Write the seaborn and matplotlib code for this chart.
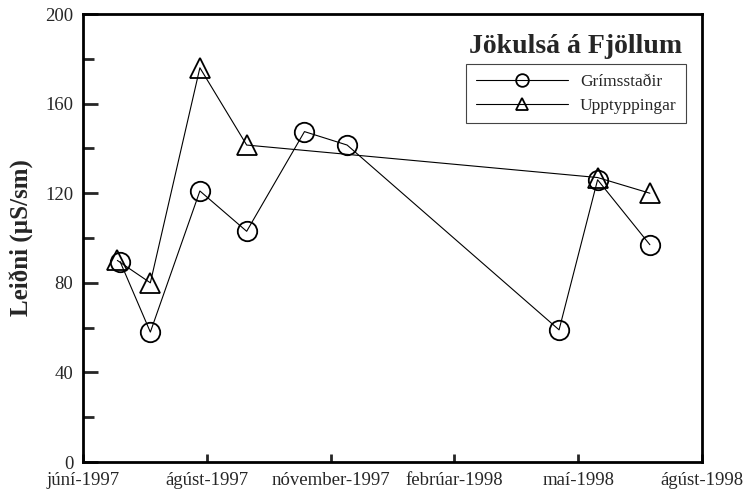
import pandas as pd
import numpy as np
import matplotlib.pyplot as plt
import seaborn as sns

# data
grim_dates = ["1997-06-28", "1997-07-20", "1997-08-25", "1997-09-28", "1997-11-09",
              "1997-12-10", "1998-05-13", "1998-06-10", "1998-07-18"]
grim_vals = [89.5, 58, 121, 103, 147.5, 141.5, 59, 126, 97]

upp_dates = ["1997-06-26", "1997-07-20", "1997-08-25", "1997-09-28", "1998-06-10", "1998-07-18"]
upp_vals = [90, 80, 176, 141.5, 127, 120]

tick_labels = ["júní-1997", "ágúst-1997", "nóvember-1997", "febrúar-1998", "maí-1998", "ágúst-1998"]

grim = pd.DataFrame({"dags": pd.to_datetime(grim_dates), "leidni": grim_vals})
upp = pd.DataFrame({"dags": pd.to_datetime(upp_dates), "leidni": upp_vals})

sns.set_style("ticks")
plt.rcParams['font.family'] = ['Liberation Serif', 'DejaVu Serif']

fig = plt.figure(figsize=(7.47, 4.97), dpi=100)
ax = fig.add_axes([0.111, 0.0704, 0.829, 0.9014])

sns.lineplot(data=grim, x="dags", y="leidni", ax=ax, color="black", lw=0.8,
             marker="o", markersize=14, markerfacecolor="none", markeredgecolor="black",
             markeredgewidth=1.3, label="Grímsstaðir")
sns.lineplot(data=upp, x="dags", y="leidni", ax=ax, color="black", lw=0.8,
             marker="^", markersize=14, markerfacecolor="none", markeredgecolor="black",
             markeredgewidth=1.3, label="Upptyppingar")

start = pd.Timestamp("1997-06-01")
ticks = [start + pd.Timedelta(days=90 * k) for k in range(len(tick_labels))]
ax.set_xlim(ticks[0], ticks[-1])
ax.set_xticks(ticks)
ax.set_xticklabels(tick_labels)

ax.set_ylim(0, 200)
ax.set_yticks(np.arange(0, 201, 40))
ax.set_yticks(np.arange(20, 200, 40), minor=True)

ax.tick_params(axis="y", which="major", direction="in", length=11, width=2, pad=7, labelsize=13.5)
ax.tick_params(axis="y", which="minor", direction="in", length=8, width=2)
ax.tick_params(axis="x", which="major", direction="in", length=6, width=2, pad=7, labelsize=13.5)
ax.tick_params(axis="x", which="minor", length=0)

for s in ax.spines.values():
    s.set_linewidth(2)
    s.set_color("black")

ax.set_xlabel("")
ax.set_ylabel("Leiðni (µS/sm)", fontsize=18, fontweight="bold", labelpad=8)

ax.text(0.967, 0.928, "Jökulsá á Fjöllum", transform=ax.transAxes, ha="right", va="center",
        fontsize=20, fontweight="bold")

leg = ax.legend(loc="upper right", bbox_to_anchor=(0.974, 0.888), borderaxespad=0,
                fancybox=False, framealpha=1, edgecolor="#444444", fontsize=12.5,
                handlelength=5.3, handletextpad=0.7, markerscale=0.65,
                borderpad=0.55, labelspacing=0.45)
leg.get_frame().set_linewidth(0.8)

fig.savefig("out.png", dpi=100)
